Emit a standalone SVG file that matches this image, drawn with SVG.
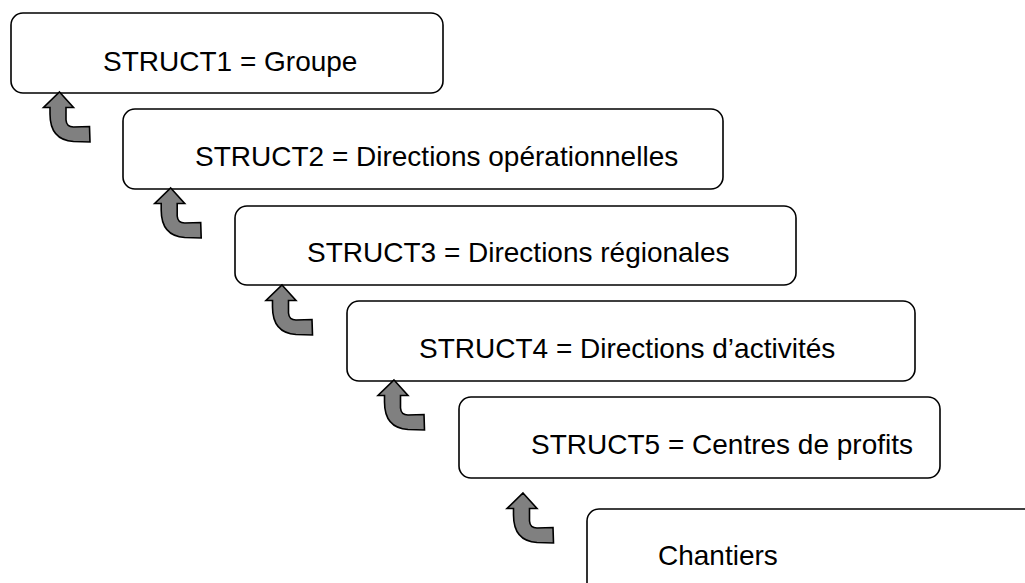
<svg xmlns="http://www.w3.org/2000/svg" width="1025" height="583" viewBox="0 0 1025 583">
<defs>
<style>
.box{fill:#fff;stroke:#000;stroke-width:1.6}
.lbl{font-family:"Liberation Sans",Arial,sans-serif;font-size:28px;fill:#000}
.arr{fill:#808080;stroke:#000;stroke-width:1.6;stroke-linejoin:miter}
</style>
<path id="uarrow" class="arr" d="M0,0 L14,15.5 L6.5,15.5 L6.5,28 Q7,35 14,35 L30,34.5 L30.5,50 L14,49.5 Q-9.5,48 -9.5,22 L-9.5,15.5 L-16,15.5 Z"/>
</defs>
<rect width="1025" height="583" fill="#fff"/>
<g id="node1"><rect class="box" x="11" y="13" width="432" height="80" rx="12"/><text class="lbl" x="103" y="71">STRUCT1 = Groupe</text></g>
<g id="node2"><rect class="box" x="123" y="109" width="600" height="80" rx="12"/><text class="lbl" x="195" y="166">STRUCT2 = Directions opérationnelles</text></g>
<g id="node3"><rect class="box" x="235" y="206" width="561" height="79" rx="12"/><text class="lbl" x="307" y="262">STRUCT3 = Directions régionales</text></g>
<g id="node4"><rect class="box" x="347" y="301" width="568" height="80" rx="12"/><text class="lbl" x="419" y="358">STRUCT4 = Directions d’activités</text></g>
<g id="node5"><rect class="box" x="459" y="397" width="481" height="81" rx="12"/><text class="lbl" x="531" y="454">STRUCT5 = Centres de profits</text></g>
<g id="node6"><rect class="box" x="587" y="509" width="470" height="100" rx="12"/><text class="lbl" x="658" y="565">Chantiers</text></g>
<g id="connectors">
<use href="#uarrow" x="59.5" y="92"/>
<use href="#uarrow" x="170.7" y="188"/>
<use href="#uarrow" x="282" y="285"/>
<use href="#uarrow" x="394" y="380"/>
<use href="#uarrow" x="523" y="493"/>
</g>
</svg>
